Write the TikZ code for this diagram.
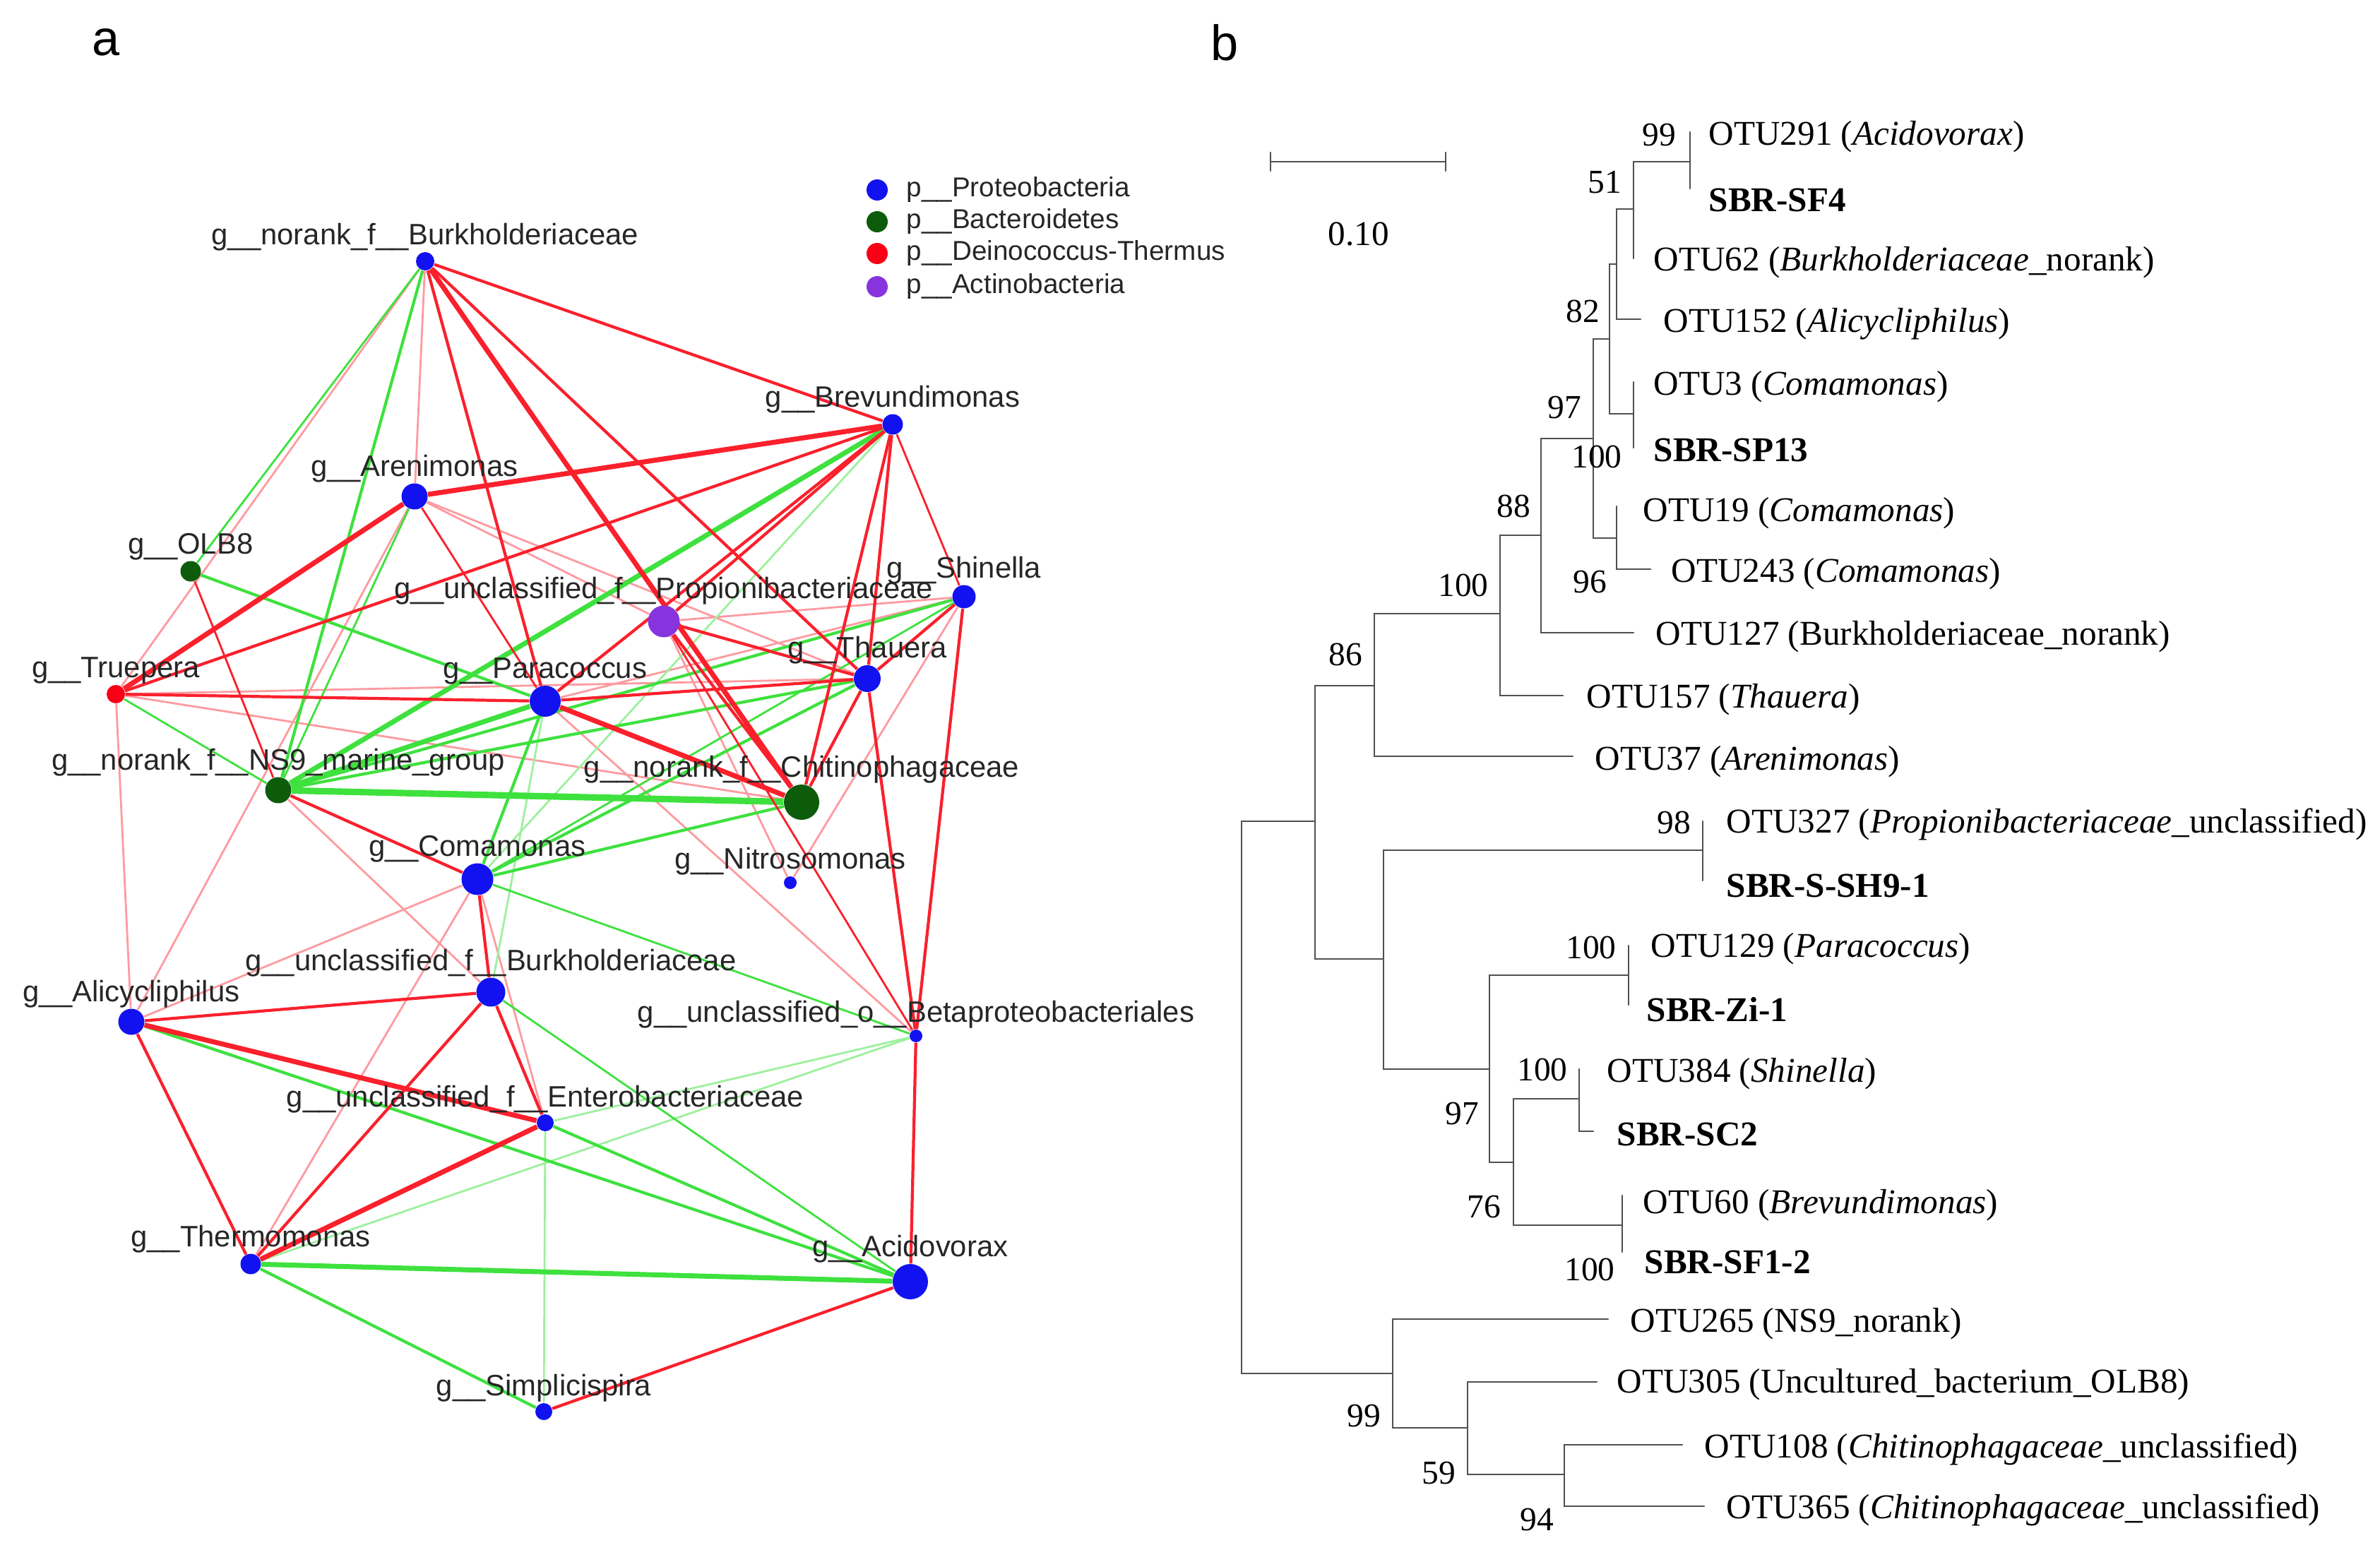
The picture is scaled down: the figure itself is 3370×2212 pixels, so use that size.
\documentclass[tikz,border=0pt]{standalone}
\usepackage{fontspec}
\setmainfont{Liberation Serif}
\newfontfamily\arialfont{Liberation Sans}
\usetikzlibrary{backgrounds}

\definecolor{nodeblue}{RGB}{18,18,240}
\definecolor{nodegreen}{RGB}{12,92,12}
\definecolor{nodered}{RGB}{250,0,22}
\definecolor{nodepurple}{RGB}{135,52,222}
\definecolor{posred}{RGB}{250,32,44}
\definecolor{negreen}{RGB}{62,225,62}
\definecolor{branchgray}{RGB}{80,80,80}

\newcommand\netfont{\arialfont\fontsize{11.9}{14}\selectfont}
\newcommand\legfont{\arialfont\fontsize{11}{13}\selectfont}
\newcommand\treefont{\fontsize{14}{16}\selectfont}
\newcommand\bootfont{\fontsize{13.5}{16}\selectfont}

\tikzset{
  taxon/.style={circle, inner sep=0pt, minimum size=#1, label distance=-0.4mm},
  prot/.style={taxon=#1, fill=nodeblue},
  bact/.style={taxon=#1, fill=nodegreen},
  deino/.style={taxon=#1, fill=nodered},
  actino/.style={taxon=#1, fill=nodepurple},
  lab/.style={font=\netfont, inner sep=0pt, text=black!85},
  rk/.style={draw=posred, line width=2.0pt},
  rm/.style={draw=posred, line width=1.2pt},
  rt/.style={draw=posred, line width=0.8pt},
  rl/.style={draw=posred!45, line width=0.8pt},
  gx/.style={draw=negreen, line width=2.6pt},
  gk/.style={draw=negreen, line width=2.0pt},
  gm/.style={draw=negreen, line width=1.2pt},
  gt/.style={draw=negreen, line width=0.8pt},
  gl/.style={draw=negreen!50, line width=0.8pt},
  branch/.style={draw=branchgray, line width=0.75pt},
  leaf/.style={anchor=west, inner sep=0pt, font=\treefont},
  boot/.style={inner sep=0pt, font=\bootfont}
}

\begin{document}
\begin{tikzpicture}[x=0.1mm, y=-0.1mm, line cap=round]
\useasboundingbox (0,0) rectangle (3370,2212);

\node[font=\arialfont\fontsize{20}{24}\selectfont] (pa) at (150,60) {a};
\node[font=\arialfont\fontsize{20}{24}\selectfont] (pb) at (1734,60) {b};

% legend
\foreach \y/\c/\t [count=\i] in {269/nodeblue/Proteobacteria, 314/nodegreen/Bacteroidetes,
    359/nodered/Deinococcus-Thermus, 406/nodepurple/Actinobacteria}{
  \node[taxon=3mm, fill=\c] (key\i) at (1242,\y) {};
  \node[font=\legfont, anchor=west, inner sep=0pt, text=black!85] (keytext\i) at (1283,\y) {p\_\_\t};
}

% network
\node[prot=2.6mm, label={[lab]above:g\_\_norank\_f\_\_Burkholderiaceae}] (nb) at (602,370) {};
\node[prot=2.9mm, label={[lab]above:g\_\_Brevundimonas}] (brev) at (1264,601) {};
\node[prot=3.7mm, label={[lab]above:g\_\_Arenimonas}] (aren) at (587,703) {};
\node[bact=2.9mm, label={[lab]above:g\_\_OLB8}] (olb) at (270,809) {};
\node[actino=4.5mm, label={[lab]above:g\_\_unclassified\_f\_\_Propionibacteriaceae}] (prop) at (940,880) {};
\node[prot=3.3mm, label={[lab]above:g\_\_Shinella}] (shin) at (1365,845) {};
\node[deino=2.6mm, label={[lab]above:g\_\_Truepera}] (truep) at (164,983) {};
\node[prot=4.4mm, label={[lab]above:g\_\_Paracoccus}] (para) at (772,993) {};
\node[prot=3.8mm, label={[lab]above:g\_\_Thauera}] (thau) at (1228,961) {};
\node[bact=3.7mm, label={[lab]above:g\_\_norank\_f\_\_NS9\_marine\_group}] (ns9) at (394,1119) {};
\node[bact=5mm, label={[lab]above:g\_\_norank\_f\_\_Chitinophagaceae}] (chit) at (1135,1136) {};
\node[prot=4.5mm, label={[lab]above:g\_\_Comamonas}] (coma) at (676,1245) {};
\node[prot=1.8mm, label={[lab]above:g\_\_Nitrosomonas}] (nitr) at (1119,1250) {};
\node[prot=4.1mm, label={[lab]above:g\_\_unclassified\_f\_\_Burkholderiaceae}] (uburk) at (695,1405) {};
\node[prot=3.7mm, label={[lab]above:g\_\_Alicycliphilus}] (alic) at (186,1447) {};
\node[prot=1.8mm, label={[lab]above:g\_\_unclassified\_o\_\_Betaproteobacteriales}] (beta) at (1297,1467) {};
\node[prot=2.4mm, label={[lab]above:g\_\_unclassified\_f\_\_Enterobacteriaceae}] (entero) at (772,1590) {};
\node[prot=2.9mm, label={[lab]above:g\_\_Thermomonas}] (therm) at (355,1790) {};
\node[prot=5mm, label={[lab]above:g\_\_Acidovorax}] (acid) at (1289,1815) {};
\node[prot=2.4mm, label={[lab]above:g\_\_Simplicispira}] (simp) at (770,1999) {};

\begin{scope}[on background layer]
% faint links first
\draw[rl] (nb) -- (truep);
\draw[rl] (nb) -- (aren);
\draw[rl] (aren) -- (thau);
\draw[rl] (aren) -- (prop);
\draw[rl] (aren) -- (alic);
\draw[rl] (truep) -- (thau);
\draw[rl] (truep) -- (chit);
\draw[rl] (truep) -- (alic);
\draw[rl] (para) -- (shin);
\draw[rl] (para) -- (beta);
\draw[rl] (shin) -- (prop);
\draw[rl] (shin) -- (nitr);
\draw[rl] (prop) -- (nitr);
\draw[rl] (ns9) -- (uburk);
\draw[rl] (coma) -- (alic);
\draw[rl] (coma) -- (therm);
\draw[rl] (coma) -- (entero);
\draw[gl] (brev) -- (coma);
\draw[gl] (para) -- (uburk);
\draw[gl] (entero) -- (beta);
\draw[gl] (entero) -- (simp);
\draw[gl] (beta) -- (therm);
% green links
\draw[gt] (nb) -- (olb);
\draw[gm] (nb) -- (ns9);
\draw[gk] (brev) -- (ns9);
\draw[gt] (aren) -- (ns9);
\draw[gm] (olb) -- (para);
\draw[gt] (truep) -- (ns9);
\draw[gk] (para) -- (ns9);
\draw[gm] (para) -- (coma);
\draw[gm] (thau) -- (ns9);
\draw[gm] (thau) -- (coma);
\draw[gm] (shin) -- (ns9);
\draw[gt] (shin) -- (coma);
\draw[gx] (ns9) -- (chit);
\draw[gm] (chit) -- (coma);
\draw[gt] (coma) -- (beta);
\draw[gt] (uburk) -- (acid);
\draw[gm] (alic) -- (acid);
\draw[gm] (entero) -- (acid);
\draw[gk] (therm) -- (acid);
\draw[gm] (therm) -- (simp);
% red links
\draw[rm] (nb) -- (brev);
\draw[rm] (nb) -- (para);
\draw[rk] (nb) -- (chit);
\draw[rm] (nb) -- (thau);
\draw[rk] (brev) -- (aren);
\draw[rm] (brev) -- (truep);
\draw[rm] (brev) -- (para);
\draw[rm] (brev) -- (prop);
\draw[rm] (brev) -- (chit);
\draw[rm] (brev) -- (thau);
\draw[rt] (brev) -- (shin);
\draw[rk] (aren) -- (truep);
\draw[rt] (aren) -- (para);
\draw[rt] (olb) -- (ns9);
\draw[rm] (truep) -- (para);
\draw[rk] (para) -- (chit);
\draw[rm] (para) -- (thau);
\draw[rm] (thau) -- (prop);
\draw[rm] (thau) -- (chit);
\draw[rm] (thau) -- (beta);
\draw[rm] (shin) -- (thau);
\draw[rm] (shin) -- (beta);
\draw[rm] (prop) -- (chit);
\draw[rt] (prop) -- (beta);
\draw[rm] (ns9) -- (coma);
\draw[rm] (coma) -- (uburk);
\draw[rm] (uburk) -- (alic);
\draw[rm] (uburk) -- (therm);
\draw[rm] (uburk) -- (entero);
\draw[rk] (alic) -- (entero);
\draw[rm] (alic) -- (therm);
\draw[rk] (entero) -- (therm);
\draw[rm] (beta) -- (acid);
\draw[rm] (acid) -- (simp);
\end{scope}

% tree
\draw[branch] (1799,216) -- (1799,242) (1799,229) -- (2047,229) (2047,216) -- (2047,242);
\node[font=\treefont, inner sep=0pt] (scalelab) at (1924,331) {0.10};

\draw[branch] (2313,229) -- (2393,229) (2393,187) -- (2393,267);
\draw[branch] (2289,296) -- (2313,296) (2313,229) -- (2313,366);
\draw[branch] (2279,374) -- (2289,374) (2289,296) -- (2289,452) -- (2323,452);
\draw[branch] (2279,586) -- (2313,586) (2313,541) -- (2313,634);
\draw[branch] (2256,480) -- (2279,480) (2279,374) -- (2279,586);
\draw[branch] (2256,762) -- (2289,762) (2289,717) -- (2289,806) -- (2337,806);
\draw[branch] (2182,621) -- (2256,621) (2256,480) -- (2256,762);
\draw[branch] (2124,758) -- (2182,758) (2182,621) -- (2182,896) -- (2313,896);
\draw[branch] (1946,869) -- (2124,869) (2124,758) -- (2124,985) -- (2213,985);
\draw[branch] (1862,971) -- (1946,971) (1946,869) -- (1946,1071) -- (2227,1071);
\draw[branch] (1758,1163) -- (1862,1163) (1862,971) -- (1862,1358) -- (1959,1358);
\draw[branch] (1959,1204) -- (1959,1514);
\draw[branch] (1959,1204) -- (2411,1204) (2411,1163) -- (2411,1247);
\draw[branch] (1959,1514) -- (2109,1514) (2109,1381) -- (2109,1646);
\draw[branch] (2109,1381) -- (2306,1381) (2306,1339) -- (2306,1423);
\draw[branch] (2109,1646) -- (2143,1646) (2143,1556) -- (2143,1735);
\draw[branch] (2143,1556) -- (2236,1556) (2236,1514) -- (2236,1602) -- (2256,1602);
\draw[branch] (2143,1735) -- (2297,1735) (2297,1693) -- (2297,1773);
\draw[branch] (1758,1163) -- (1758,1945) -- (1972,1945);
\draw[branch] (1972,1868) -- (1972,2022) (1972,1868) -- (2277,1868);
\draw[branch] (1972,2022) -- (2078,2022) (2078,1957) -- (2078,2088) (2078,1957) -- (2261,1957);
\draw[branch] (2078,2088) -- (2215,2088) (2215,2046) -- (2215,2133);
\draw[branch] (2215,2046) -- (2382,2046) (2215,2133) -- (2413,2133);

\node[leaf] (otu291) at (2419,194) {OTU291 (\textit{Acidovorax})};
\node[leaf] (sf4) at (2419,283) {\textbf{SBR-SF4}};
\node[leaf] (otu62) at (2341,372) {OTU62 (\textit{Burkholderiaceae}\_norank)};
\node[leaf] (otu152) at (2355,459) {OTU152 (\textit{Alicycliphilus})};
\node[leaf] (otu3) at (2341,548) {OTU3 (\textit{Comamonas})};
\node[leaf] (sp13) at (2341,637) {\textbf{SBR-SP13}};
\node[leaf] (otu19) at (2326,727) {OTU19 (\textit{Comamonas})};
\node[leaf] (otu243) at (2366,813) {OTU243 (\textit{Comamonas})};
\node[leaf] (otu127) at (2344,902) {OTU127 (Burkholderiaceae\_norank)};
\node[leaf] (otu157) at (2246,991) {OTU157 (\textit{Thauera})};
\node[leaf] (otu37) at (2258,1079) {OTU37 (\textit{Arenimonas})};
\node[leaf] (otu327) at (2444,1167) {OTU327 (\textit{Propionibacteriaceae}\_unclassified)};
\node[leaf] (sh9) at (2444,1254) {\textbf{SBR-S-SH9-1}};
\node[leaf] (otu129) at (2337,1344) {OTU129 (\textit{Paracoccus})};
\node[leaf] (zi1) at (2331,1430) {\textbf{SBR-Zi-1}};
\node[leaf] (otu384) at (2275,1521) {OTU384 (\textit{Shinella})};
\node[leaf] (sc2) at (2289,1606) {\textbf{SBR-SC2}};
\node[leaf] (otu60) at (2326,1707) {OTU60 (\textit{Brevundimonas})};
\node[leaf] (sf12) at (2328,1787) {\textbf{SBR-SF1-2}};
\node[leaf] (otu265) at (2308,1875) {OTU265 (NS9\_norank)};
\node[leaf] (otu305) at (2289,1961) {OTU305 (Uncultured\_bacterium\_OLB8)};
\node[leaf] (otu108) at (2413,2052) {OTU108 (\textit{Chitinophagaceae}\_unclassified)};
\node[leaf] (otu365) at (2444,2138) {OTU365 (\textit{Chitinophagaceae}\_unclassified)};

% bootstrap values
\foreach \x/\y/\v [count=\i] in {2349/191/99, 2272/258/51, 2241/441/82, 2215/577/97,
    2261/647/100, 2143/717/88, 2251/824/96, 2072/829/100, 1905/927/86, 2370/1165/98,
    2253/1342/100, 2184/1515/100, 2070/1577/97, 2101/1709/76, 2251/1798/100,
    1931/2005/99, 2037/2086/59, 2176/2152/94}
  \node[boot] (bs\i) at (\x,\y) {\v};
\end{tikzpicture}
\end{document}
